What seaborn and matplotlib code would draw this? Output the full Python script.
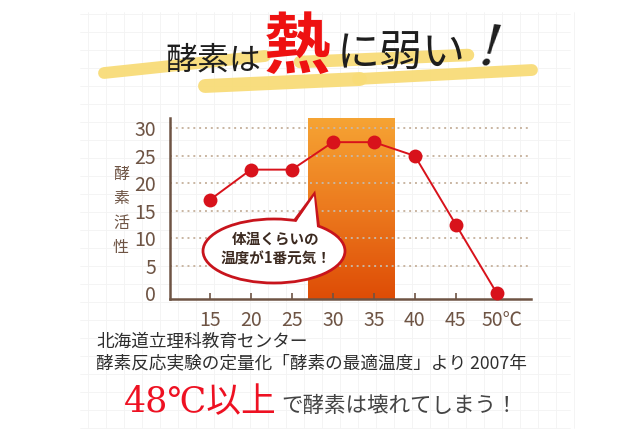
import numpy as np
import matplotlib
matplotlib.use("Agg")
import matplotlib.pyplot as plt
import matplotlib.transforms as mtransforms
from matplotlib.colors import LinearSegmentedColormap
from matplotlib.patches import Ellipse, Polygon
from matplotlib.lines import Line2D
import seaborn as sns
import pandas as pd

# ---- data ----
temps = [15, 20, 25, 30, 35, 40, 45, 50]
activity = [17, 22.5, 22.5, 27.5, 27.5, 25, 12.5, 0]
xtick_labels = ["15", "20", "25", "30", "35", "40", "45", "50℃"]
yticks = [0, 5, 10, 15, 20, 25, 30]
band_range = [27.0, 37.6]

title_parts = ["酵素は", "熱", "に弱い", "!"]
ylabel = "酵素活性"
bubble_text = "体温くらいの\n温度が1番元気！"
source_lines = ["北海道立理科教育センター", "酵素反応実験の定量化「酵素の最適温度」より 2007年"]
bottom_red = "48℃以上"
bottom_rest = "で酵素は壊れてしまう！"

sns.set_theme(style="white")
plt.rcParams['font.family'] = ['Noto Sans CJK JP', 'DejaVu Sans']

W, H = 640, 434
fig = plt.figure(figsize=(6.4, 4.34), dpi=100)
fig.patch.set_facecolor("white")

def fx(px):
    return px / W

def fy(py):
    return 1 - py / H

# faint graph-paper background
for gx in np.arange(88, 575, 18):
    fig.add_artist(Line2D([fx(gx), fx(gx)], [fy(12), fy(428)], color="#f3f3f3", lw=0.6, zorder=0))
for gy in np.arange(14, 430, 18):
    fig.add_artist(Line2D([fx(80), fx(570)], [fy(gy), fy(gy)], color="#f3f3f3", lw=0.6, zorder=0))

brown = "#6e5444"
ax = fig.add_axes([fx(170), fy(299), fx(531) - fx(170), (299 - 118) / H])
ax.set_facecolor("none")
df = pd.DataFrame({"temp": temps, "activity": activity})

# orange gradient band
cmap = LinearSegmentedColormap.from_list("band", ["#f6a434", "#ec7a1e", "#de4c06"])
grad = np.linspace(0, 1, 256).reshape(-1, 1)
ax.imshow(grad, extent=[band_range[0], band_range[1], -1.05, 31.9], aspect="auto",
          cmap=cmap, origin="upper", zorder=0.5)

for yv in yticks[1:]:
    ax.axhline(yv, color="#c9b6a2", lw=1.4, ls=(0, (1, 2)), zorder=1)

sns.lineplot(data=df, x="temp", y="activity", ax=ax, color="#d8121b", lw=1.4,
             marker="o", markersize=10, markeredgewidth=0, zorder=4, clip_on=False)

ax.set_xlim(10.13, 54.17)
ax.set_ylim(-1.05, 31.9)
ax.set_xticks(temps)
ax.set_xticklabels(xtick_labels)
ax.set_yticks(yticks)
ax.set_yticklabels([str(v) for v in yticks])
ax.set_xlabel("")
ax.set_ylabel("")
for s in ["top", "right"]:
    ax.spines[s].set_visible(False)
for s in ["left", "bottom"]:
    ax.spines[s].set_color(brown)
    ax.spines[s].set_linewidth(1.8)
    ax.spines[s].set_zorder(3)
ax.tick_params(axis="x", direction="in", length=4, width=1.2, color=brown,
               labelcolor=brown, labelsize=14, pad=8, bottom=True)
ax.tick_params(axis="y", length=0, labelcolor=brown, labelsize=14, pad=10)
last = ax.get_xticklabels()[-1]
last.set_ha("left")
last.set_transform(last.get_transform() + mtransforms.ScaledTranslation(-15 / 100, 0, fig.dpi_scale_trans))

# y label stacked vertically
fig.text(fx(121), fy(211), "\n".join(ylabel), color=brown, fontsize=11.5,
         ha="center", va="center", linespacing=1.55)

# speech bubble (figure pixel coords)
red = "#c8141c"
tail = Polygon([[fx(282), fy(238)], [fx(314), fy(195)], [fx(320), fy(240)]],
               closed=True, fc="white", ec=red, lw=2.6, zorder=10, transform=fig.transFigure)
fig.add_artist(tail)
ell = Ellipse((fx(274), fy(251)), fx(142), 64 / H, fc="white", ec=red, lw=2.0,
              zorder=11, transform=fig.transFigure)
fig.add_artist(ell)
tail2 = Polygon([[fx(284), fy(240)], [fx(314), fy(196)], [fx(318.5), fy(242)]],
                closed=True, fc="white", ec="none", zorder=12, transform=fig.transFigure)
fig.add_artist(tail2)
fig.text(fx(276), fy(249), bubble_text, ha="center", va="center", fontsize=10.5,
         fontweight="bold", color="#3c2a20", linespacing=1.3, zorder=13)

# title yellow brush strokes
yellow = "#f8dc78"
for (x0, y0, x1, y1, lw) in [(104, 73, 265, 56, 8.5), (205, 86, 360, 79, 10),
                             (300, 62, 468, 55, 9), (358, 79, 532, 70, 8.5)]:
    fig.add_artist(Line2D([fx(x0), fx(x1)], [fy(y0), fy(y1)], color=yellow, lw=lw,
                          solid_capstyle="round", zorder=1, alpha=0.95))

fig.text(fx(165), fy(61), title_parts[0], fontsize=23, color="#1e1e1e", ha="left", va="center", zorder=5)
fig.text(fx(264), fy(48), title_parts[1], fontsize=48, color="#ee1111", fontweight="bold",
         ha="left", va="center", zorder=5)
fig.text(fx(337), fy(55), title_parts[2], fontsize=31, color="#1e1e1e", ha="left", va="center", zorder=5)
fig.text(fx(476), fy(50), title_parts[3], fontsize=40, color="#1e1e1e", ha="left", va="center",
         style="italic", family="DejaVu Serif", zorder=5, rotation=-6)

# source text
fig.text(fx(96), fy(342), source_lines[0], fontsize=12.7, color="#2e2e2e", ha="left", va="center")
fig.text(fx(96), fy(363), source_lines[1], fontsize=12.7, color="#2e2e2e", ha="left", va="center")

# bottom message
fig.text(fx(124), fy(402), bottom_red, fontsize=25, color="#ee1122", ha="left", va="center",
         family=["DejaVu Serif", "Noto Sans CJK JP"])
fig.text(fx(281), fy(406), bottom_rest, fontsize=15.5, color="#444444", ha="left", va="center")

fig.savefig("out.png", dpi=100, facecolor="white")
